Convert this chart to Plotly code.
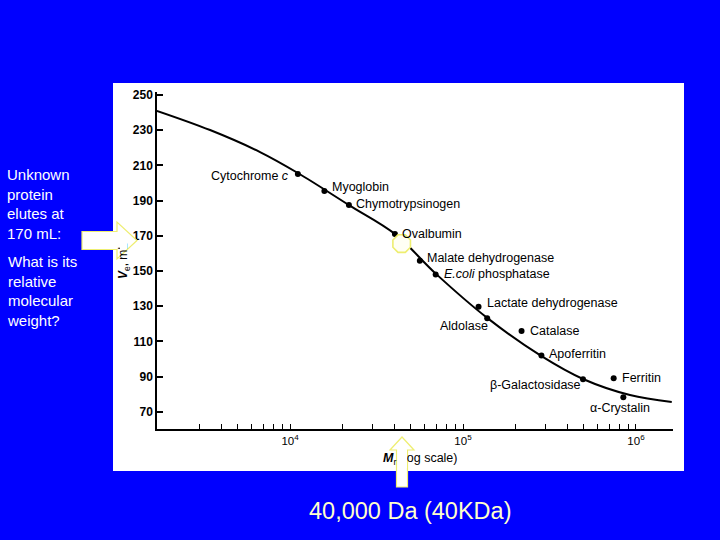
import math
import plotly.graph_objects as go

# ---- data ----
protein_labels = ["Cytochrome <i>c</i>", "Myoglobin", "Chymotrypsinogen", "Ovalbumin",
                  "Malate dehydrogenase", "<i>E.coli</i> phosphatase", "Lactate dehydrogenase",
                  "Aldolase", "Catalase", "Apoferritin", "β-Galactosidase", "Ferritin",
                  "α-Crystalin"]
protein_mr = [11100, 15800, 21900, 40400, 56300, 69500, 123000, 138000, 218000,
              284000, 494000, 743000, 845000]
protein_ve = [205.1, 195.5, 187.5, 171.1, 155.9, 148.0, 129.8, 123.2, 116.0,
              102.0, 88.6, 89.1, 78.3]

curve_mr = [1700, 3450, 6710, 11100, 21900, 40400, 69800, 138000, 283000, 494000, 923000, 1610000]
curve_ve = [241.0, 230.1, 217.6, 205.7, 187.5, 171.1, 148.4, 123.4, 101.8, 88.7, 79.6, 75.7]

unknown_mr = [44200]
unknown_ve = [165.6]

y_ticks = [70, 90, 110, 130, 150, 170, 190, 210, 230, 250]
x_major = [1e4, 1e5, 1e6]
x_major_text = ["10<sup>4</sup>", "10<sup>5</sup>", "10<sup>6</sup>"]
x_minor = [3000, 4000, 5000, 6000, 7000, 8000, 9000] + \
          [m * 1e4 for m in range(2, 10)] + [m * 1e5 for m in range(2, 10)]

# label placement (anchor, xshift, yshift) relative to each point
label_place = [("right", -7, -2), ("left", 6, 4), ("left", 5, 1), ("left", 5, 0),
               ("left", 5, 3), ("left", 6, 1), ("left", 6, 4), ("right", 3, -8),
               ("left", 6, 0), ("left", 6, 2), ("right", 0, -6), ("left", 6, 0),
               ("center", -3, -11)]

# ---- layout geometry (pixels) ----
W, H = 720, 540
L, R, T, B = 157, 47, 92, 111
PW, PH = W - L - R, H - T - B
BLUE = "#0000FF"
ARROW = "#EEEE70"


def px(x):
    return (x - L) / PW


def py(y):
    return (H - B - y) / PH


def path(points):
    return "M " + " L ".join(f"{px(a):.5f},{py(b):.5f}" for a, b in points) + " Z"


fig = go.Figure()

fig.add_trace(go.Scatter(x=curve_mr, y=curve_ve, mode="lines",
                         line=dict(color="black", width=2, shape="spline", smoothing=1),
                         hoverinfo="skip", showlegend=False))
fig.add_trace(go.Scatter(x=protein_mr, y=protein_ve, mode="markers",
                         marker=dict(color="black", size=6), showlegend=False))
fig.add_trace(go.Scatter(x=unknown_mr, y=unknown_ve, mode="markers",
                         marker=dict(symbol="octagon", size=19, color="#FFFFF4",
                                     line=dict(color=ARROW, width=1.6)),
                         showlegend=False, cliponaxis=False))

ticks_all = x_major + x_minor
ticks_text = x_major_text + [""] * len(x_minor)

fig.update_xaxes(type="log", range=[3.231, 6.214], showgrid=False, zeroline=False,
                 showline=True, linecolor="black", linewidth=2,
                 ticks="inside", ticklen=5, tickwidth=1, tickcolor="black",
                 tickvals=ticks_all, ticktext=ticks_text,
                 tickfont=dict(family="Arial", size=11.5, color="black"))
fig.update_yaxes(range=[60.3, 251.7], showgrid=False, zeroline=False,
                 showline=True, linecolor="black", linewidth=1.5,
                 ticks="inside", ticklen=6, tickwidth=1.5, tickcolor="black",
                 tickvals=y_ticks,
                 tickfont=dict(family="Arial", size=12, color="black", weight="bold"))

ann = []
for lab, x, y, (anc, dx, dy) in zip(protein_labels, protein_mr, protein_ve, label_place):
    # annotation positions on a log axis are given in log10 units
    ann.append(dict(x=math.log10(x), y=y, xref="x", yref="y", text=lab, showarrow=False,
                    xanchor=anc, yanchor="middle", xshift=dx, yshift=dy,
                    font=dict(family="Arial", size=12.5, color="black")))

# axis titles
ann.append(dict(x=px(420), y=py(459), xref="paper", yref="paper",
                text="<b><i>M</i></b><sub>r</sub> (log scale)", showarrow=False,
                xanchor="center", yanchor="middle",
                font=dict(family="Arial", size=12.5, color="black")))
ann.append(dict(x=px(124), y=py(281), xref="paper", yref="paper",
                text="<b><i>V</i></b><sub>e</sub>, mL", showarrow=False, textangle=-90,
                xanchor="center", yanchor="bottom",
                font=dict(family="Arial", size=12, color="black")))
# white fill pieces of the arrows that lie over the titles
ann.append(dict(x=px(402), y=py(459), xref="paper", yref="paper", text=" ",
                showarrow=False, width=9, height=18, bgcolor="white",
                borderpad=0, borderwidth=0, xanchor="center", yanchor="middle"))
ann.append(dict(x=px(123.5), y=py(241), xref="paper", yref="paper", text=" ",
                showarrow=False, width=7, height=17, bgcolor="white",
                borderpad=0, borderwidth=0, xanchor="center", yanchor="middle"))

# side texts
ann.append(dict(x=px(5), y=py(204), xref="paper", yref="paper",
                text="Unknown<br>protein<br>elutes at<br>170 mL:", showarrow=False,
                xanchor="left", yanchor="middle", align="left",
                font=dict(family="Arial", size=15, color="white")))
ann.append(dict(x=px(5), y=py(291), xref="paper", yref="paper",
                text="What is its<br>relative<br>molecular<br>weight?", showarrow=False,
                xanchor="left", yanchor="middle", align="left",
                font=dict(family="Arial", size=15, color="white")))
ann.append(dict(x=px(410), y=py(511), xref="paper", yref="paper",
                text="40,000 Da (40KDa)", showarrow=False,
                xanchor="center", yanchor="middle",
                font=dict(family="Arial", size=23.5, color="#FFFFCC")))

shapes = [
    dict(type="rect", xref="paper", yref="paper", x0=px(113), x1=px(684),
         y0=py(471), y1=py(83), fillcolor="white", line=dict(width=0), layer="below"),
    dict(type="path", xref="paper", yref="paper",
         path=path([(82, 231.5), (117, 231.5), (117, 222), (137, 240.5), (117, 259),
                    (117, 249.5), (82, 249.5)]),
         fillcolor="white", line=dict(color=ARROW, width=1.2), layer="above"),
    dict(type="path", xref="paper", yref="paper",
         path=path([(402, 437), (414, 450), (407.5, 450), (407.5, 487), (396.5, 487),
                    (396.5, 450), (390, 450)]),
         fillcolor="white", line=dict(color=ARROW, width=1.2), layer="above"),
]

fig.update_layout(width=W, height=H, autosize=False,
                  margin=dict(l=L, r=R, t=T, b=B, pad=0),
                  paper_bgcolor=BLUE, plot_bgcolor="white",
                  annotations=ann, shapes=shapes, showlegend=False)

fig.write_html("out.html", config={"displayModeBar": False},
               post_script="document.body.style.margin='0';"
                           "document.body.style.background='" + BLUE + "';")
